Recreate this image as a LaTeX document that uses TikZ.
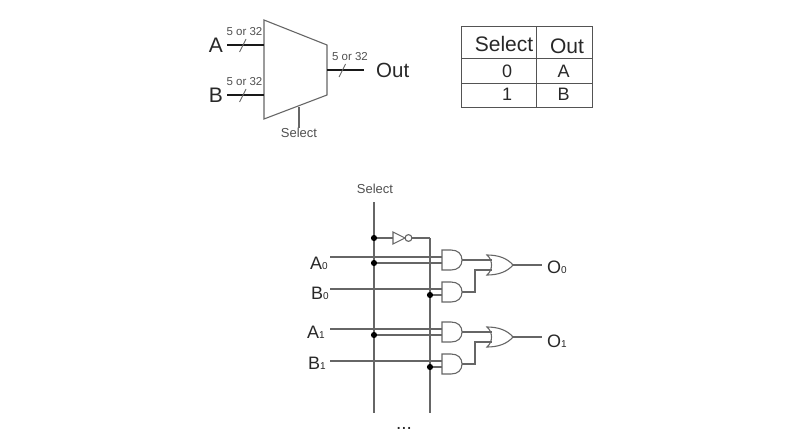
\documentclass[tikz,border=0pt]{standalone}
\usepackage{fontspec}
\setmainfont{Liberation Sans}
\usetikzlibrary{calc}
\definecolor{wire}{HTML}{666666}
\definecolor{ink}{HTML}{282828}
\definecolor{soft}{HTML}{505050}
\tikzset{
  x=1pt,y=-1pt,
  wireline/.style={draw=wire,line width=1.1pt},
  busline/.style={draw=black!90,line width=2.1pt},
  slashline/.style={draw=wire,line width=0.9pt},
  gridline/.style={draw=ink!80!white,line width=0.9pt},
  txt/.style={inner sep=0pt,text=ink},
  big/.style={txt,font=\fontsize{21}{21}\selectfont},
  outtxt/.style={txt,font=\fontsize{20.5}{21}\selectfont},
  tiny/.style={txt,text=soft,font=\fontsize{11.5}{12}\selectfont},
  seltxt/.style={txt,text=soft,font=\fontsize{13}{13}\selectfont},
  headtxt/.style={txt,font=\fontsize{21}{21}\selectfont},
  celltxt/.style={txt,font=\fontsize{18}{18}\selectfont},
  sigtxt/.style={txt,anchor=west,font=\fontsize{18}{18}\selectfont},
  junction/.style={circle,fill=black,inner sep=0pt,minimum size=6.2pt},
  andg/.pic={
    \draw[wireline] (0,0) -- (9,0) .. controls (16,0) and (20,4) .. (20,10)
       .. controls (20,16) and (16,20) .. (9,20) -- (0,20) -- cycle;
    \coordinate (-a) at (0,7); \coordinate (-b) at (0,13); \coordinate (-o) at (20,10);
  },
  org/.pic={
    \draw[wireline] (0,0) .. controls (11,0) and (20,3) .. (26,10)
       .. controls (20,17) and (11,20) .. (0,20)
       .. controls (6,15) and (6,5) .. (0,0) -- cycle;
    \coordinate (-a) at (5,5); \coordinate (-b) at (5,15); \coordinate (-o) at (26,10);
  },
}
\newcommand{\sigl}[2]{#1{\fontsize{10}{10}\selectfont #2}}
\begin{document}
\begin{tikzpicture}
\useasboundingbox (0,0) rectangle (800,447);
% ---------- multiplexer symbol
\coordinate (m1) at (264,20); \coordinate (m2) at (327,45);
\coordinate (m3) at (327,95); \coordinate (m4) at (264,119);
\draw[wireline] (m1) -- (m2) -- (m3) -- (m4) -- cycle;
\node[big,anchor=center] (lA) at (216,45) {A};
\node[big,anchor=center] (lB) at (216,95) {B};
\node[outtxt,anchor=west] (lOut) at (376,70) {Out};
\coordinate (aL) at (227,45); \coordinate (aR) at (264,45);
\coordinate (bL) at (227,95); \coordinate (bR) at (264,95);
\coordinate (oL) at (327,70); \coordinate (oR) at (364,70);
\draw[busline] (aL) -- (aR);
\draw[busline] (bL) -- (bR);
\draw[busline] (oL) -- (oR);
\draw[slashline] (239.5,52) -- (246,39);
\draw[slashline] (239.5,102) -- (246,89);
\draw[slashline] (339,77) -- (345.5,64);
\node[tiny] (w1) at (244.5,31.5) {5 or 32};
\node[tiny] (w2) at (244.5,81.5) {5 or 32};
\node[tiny] (w3) at (350,57) {5 or 32};
\node[seltxt] (sel1) at (299,133) {Select};
\coordinate (selT) at (299,107);
\draw[wireline] (selT) -- (sel1.north);
% ---------- truth table
\draw[gridline] (461,26) rectangle (592,107);
\draw[gridline] (461,58) -- (592,58);
\draw[gridline] (461,83) -- (592,83);
\draw[gridline] (536,26) -- (536,107);
\node[headtxt] (h1) at (504,44) {Select};
\node[headtxt] (h2) at (567,46) {Out};
\node[celltxt] (c01) at (507,71) {0};
\node[celltxt] (c02) at (563.5,71) {A};
\node[celltxt] (c11) at (507,94) {1};
\node[celltxt] (c12) at (563.5,94) {B};
% ---------- gate level circuit
\node[seltxt] (sel2) at (375,189) {Select};
\coordinate (vAt) at (374,202); \coordinate (vAb) at (374,413);
\coordinate (vBt) at (430,238); \coordinate (vBb) at (430,413);
\draw[wireline] (vAt) -- (vAb);
\draw[wireline] (vBt) -- (vBb);
% inverter
\coordinate (j0) at (374,238);
\draw[wireline] (393,232) -- (405,238) -- (393,244) -- cycle;
\node[circle,draw=wire,line width=1.1pt,fill=white,inner sep=0pt,minimum size=6.8pt] (bub) at (408.5,238) {};
\draw[wireline] (j0) -- (393,238);
\draw[wireline] (bub) -- (vBt);
\node[junction] (d0) at (j0) {};
% gates
\pic (g1) at (442,250) {andg};
\pic (g2) at (442,282) {andg};
\pic (r1) at (487,255) {org};
\pic (g3) at (442,322) {andg};
\pic (g4) at (442,354) {andg};
\pic (r2) at (487,327) {org};
% labels
\node[sigtxt] (A0) at (310,263) {\sigl{A}{0}};
\node[sigtxt] (B0) at (311,293) {\sigl{B}{0}};
\node[sigtxt] (O0) at (547,267) {\sigl{O}{0}};
\node[sigtxt] (A1) at (307,332) {\sigl{A}{1}};
\node[sigtxt] (B1) at (308,363) {\sigl{B}{1}};
\node[sigtxt] (O1) at (547,341) {\sigl{O}{1}};
\node[txt,font=\fontsize{19}{19}\selectfont] (more) at (404,428) {...};
% stage 0
\coordinate (a0s) at (330,257); \coordinate (b0s) at (330,289);
\coordinate (o0e) at (542,265);
\node[junction] (d1) at (374,263) {};
\node[junction] (d2) at (430,295) {};
\draw[wireline] (a0s) -- (g1-a);
\draw[wireline] (d1) -- (g1-b);
\draw[wireline] (b0s) -- (g2-a);
\draw[wireline] (d2) -- (g2-b);
\draw[wireline] (g1-o) -- (r1-a);
\draw[wireline] (g2-o) -| (475,270) -- (r1-b);
\draw[wireline] (r1-o) -- (o0e);
% stage 1
\coordinate (a1s) at (330,329); \coordinate (b1s) at (330,361);
\coordinate (o1e) at (542,337);
\node[junction] (d3) at (374,335) {};
\node[junction] (d4) at (430,367) {};
\draw[wireline] (a1s) -- (g3-a);
\draw[wireline] (d3) -- (g3-b);
\draw[wireline] (b1s) -- (g4-a);
\draw[wireline] (d4) -- (g4-b);
\draw[wireline] (g3-o) -- (r2-a);
\draw[wireline] (g4-o) -| (475,342) -- (r2-b);
\draw[wireline] (r2-o) -- (o1e);
\end{tikzpicture}
\end{document}
